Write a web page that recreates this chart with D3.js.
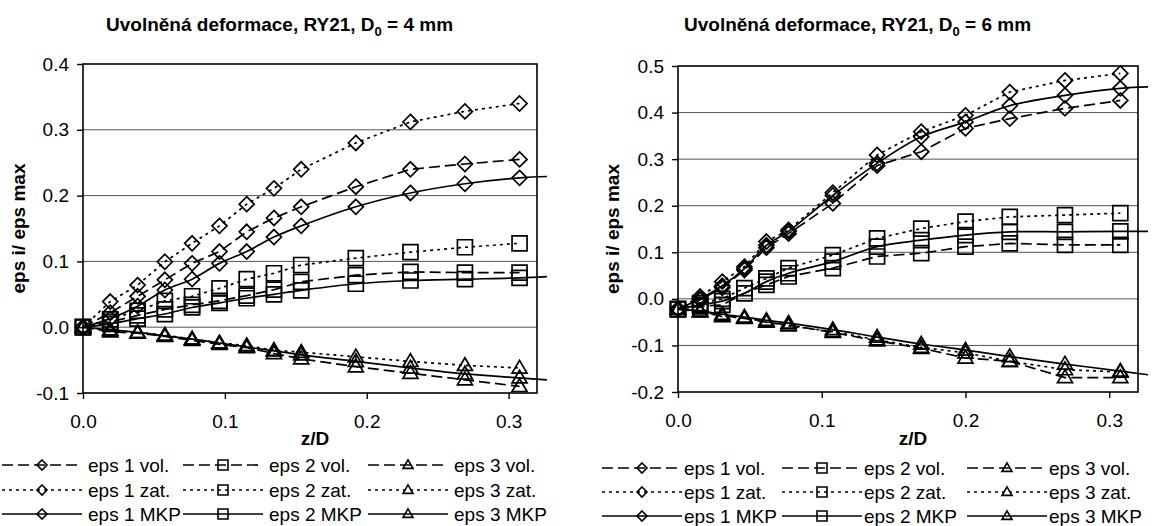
<!DOCTYPE html>
<html>
<head>
<meta charset="utf-8">
<script src="https://cdn.jsdelivr.net/npm/d3@7"></script>
<style>
body{margin:0;background:#fff}
svg{display:block}
text{font-family:"Liberation Sans",Arial,sans-serif;fill:#000}
</style>
</head>
<body>
<div id="chart"></div>
<script>
// z/D positions of the measured points
var zLeft = [0, 0.0192, 0.0385, 0.0577, 0.0769, 0.0962, 0.1154, 0.1346, 0.1538, 0.1923, 0.2308, 0.2692, 0.3077];
var zRight = [0, 0.0154, 0.0308, 0.0462, 0.0615, 0.0769, 0.1077, 0.1385, 0.1692, 0.2, 0.2308, 0.2692, 0.3077];
var zMkpEnd = 0.327; // MKP curves run a bit past the frame

// D0 = 4 mm
var eps1Vol4 = [0, 0.022, 0.047, 0.072, 0.097, 0.115, 0.145, 0.166, 0.183, 0.2135, 0.24, 0.248, 0.255];
var eps1Zat4 = [0, 0.039, 0.064, 0.0995, 0.1275, 0.154, 0.187, 0.211, 0.24, 0.28, 0.312, 0.328, 0.34];
var eps1Mkp4 = [0, 0.013, 0.032, 0.0565, 0.073, 0.097, 0.115, 0.137, 0.154, 0.183, 0.204, 0.218, 0.227, 0.229];
var eps2Vol4 = [0, 0.008, 0.018, 0.027, 0.034, 0.04, 0.048, 0.057, 0.069, 0.079, 0.084, 0.083, 0.083];
var eps2Zat4 = [0, 0.012, 0.025, 0.04, 0.047, 0.059, 0.073, 0.082, 0.0945, 0.105, 0.114, 0.1215, 0.1275];
var eps2Mkp4 = [0, 0.005, 0.013, 0.02, 0.03, 0.037, 0.044, 0.05, 0.056, 0.066, 0.071, 0.073, 0.075, 0.077];
var eps3Vol4 = [0, -0.007, -0.009, -0.014, -0.02, -0.026, -0.031, -0.04, -0.048, -0.06, -0.07, -0.08, -0.09];
var eps3Zat4 = [0, -0.005, -0.008, -0.012, -0.018, -0.024, -0.028, -0.035, -0.038, -0.045, -0.052, -0.058, -0.062];
var eps3Mkp4 = [0, -0.004, -0.008, -0.013, -0.018, -0.024, -0.03, -0.036, -0.042, -0.052, -0.062, -0.071, -0.077, -0.08];

// D0 = 6 mm
var eps1Vol6 = [-0.022, -0.002, 0.024, 0.062, 0.11, 0.14, 0.205, 0.286, 0.316, 0.366, 0.387, 0.409, 0.426];
var eps1Zat6 = [-0.022, 0.005, 0.037, 0.069, 0.123, 0.148, 0.228, 0.309, 0.359, 0.394, 0.444, 0.469, 0.484];
var eps1Mkp6 = [-0.022, 0.0, 0.028, 0.065, 0.115, 0.145, 0.222, 0.291, 0.348, 0.38, 0.415, 0.437, 0.452, 0.455];
var eps2Vol6 = [-0.022, -0.016, -0.013, 0.012, 0.03, 0.048, 0.066, 0.091, 0.098, 0.112, 0.119, 0.116, 0.116];
var eps2Zat6 = [-0.022, -0.009, 0.0, 0.023, 0.044, 0.066, 0.094, 0.13, 0.151, 0.166, 0.176, 0.18, 0.184];
var eps2Mkp6 = [-0.022, -0.013, -0.005, 0.012, 0.037, 0.055, 0.08, 0.112, 0.126, 0.137, 0.144, 0.144, 0.145, 0.145];
var eps3Vol6 = [-0.022, -0.028, -0.036, -0.042, -0.05, -0.056, -0.072, -0.09, -0.106, -0.127, -0.134, -0.169, -0.169];
var eps3Zat6 = [-0.022, -0.027, -0.038, -0.041, -0.049, -0.058, -0.07, -0.088, -0.104, -0.116, -0.134, -0.152, -0.157];
var eps3Mkp6 = [-0.022, -0.026, -0.033, -0.039, -0.046, -0.052, -0.066, -0.082, -0.097, -0.11, -0.124, -0.14, -0.155, -0.163];

var xTicks = [0, 0.1, 0.2, 0.3];
var yTicks4 = [-0.1, 0, 0.1, 0.2, 0.3, 0.4];
var yTicks6 = [-0.2, -0.1, 0, 0.1, 0.2, 0.3, 0.4, 0.5];
var kinds = ['vol.', 'zat.', 'MKP'];
var shapes = ['diamond', 'square', 'triangle'];

var dashes = {'vol.': '11,5', 'zat.': '3,4', 'MKP': null};

var svg = d3.select('#chart')
    .append('svg')
    .attr('width', 1158)
    .attr('height', 526);

function markerPath(shape, r){
    if(shape == 'diamond') return 'M0,'+(-r)+'L'+r+',0L0,'+r+'L'+(-r)+',0Z';
    if(shape == 'square') return 'M'+(-r)+','+(-r)+'h'+(2*r)+'v'+(2*r)+'h'+(-2*r)+'Z';
    var h = r*1.7;
    return 'M0,'+(-h*0.6)+'L'+r+','+(h*0.4)+'L'+(-r)+','+(h*0.4)+'Z';
}

function drawPanel(p){
    var x = d3.scaleLinear().domain([0, 0.32]).range([p.left, p.right]);
    var y = d3.scaleLinear().domain(p.yDomain).range([p.bottom, p.top]);
    var g = svg.append('g');

    // grid
    g.selectAll('line.grid')
        .data(p.yTicks.slice(1, -1))
        .enter()
        .append('line')
        .attr('x1', p.left).attr('x2', p.right)
        .attr('y1', function(d){return y(d)}).attr('y2', function(d){return y(d)})
        .attr('stroke', '#555').attr('stroke-width', 1);

    g.append('rect')
        .attr('x', p.left).attr('y', p.top)
        .attr('width', p.right - p.left).attr('height', p.bottom - p.top)
        .attr('fill', 'none').attr('stroke', '#000').attr('stroke-width', 1.6);

    var yAxis = g.append('g')
        .attr('transform', 'translate(' + p.left + ',0)')
        .call(d3.axisLeft(y).tickValues(p.yTicks).tickSize(6).tickPadding(8)
            .tickFormat(function(d){return d.toFixed(1)}));
    var xAxis = g.append('g')
        .attr('transform', 'translate(0,' + p.bottom + ')')
        .call(d3.axisBottom(x).tickValues(xTicks).tickSize(6).tickPadding(16)
            .tickFormat(function(d){return d.toFixed(1)}));
    [xAxis, yAxis].forEach(function(a){
        a.select('.domain').remove();
        a.selectAll('line').attr('stroke', '#000').attr('stroke-width', 1.4);
        a.selectAll('text').attr('font-size', 19).attr('font-family', '"Liberation Sans",Arial,sans-serif');
    });

    // titles
    var t = svg.append('text')
        .attr('x', p.titleX).attr('y', 31)
        .attr('font-size', 19).attr('font-weight', 'bold');
    t.append('tspan').text('Uvolněná deformace, RY21, D');
    t.append('tspan').attr('dy', 5).attr('font-size', 13).text('0');
    t.append('tspan').attr('dy', -5).text(' = ' + p.d0 + ' mm');

    svg.append('text')
        .attr('x', (p.left + p.right)/2 + 5).attr('y', 445)
        .attr('text-anchor', 'middle')
        .attr('font-size', 19).attr('font-weight', 'bold')
        .text('z/D');
    svg.append('text')
        .attr('transform', 'translate(' + p.yTitleX + ',' + ((p.top + p.bottom)/2) + ') rotate(-90)')
        .attr('text-anchor', 'middle')
        .attr('font-size', 19).attr('font-weight', 'bold')
        .text('eps i/ eps max');

    // series
    p.series.forEach(function(s){
        var zs = s.kind == 'MKP' ? p.z.concat([zMkpEnd]) : p.z;
        var pts = s.values.map(function(v, i){return [zs[i], v]});
        var line = d3.line()
            .x(function(d){return x(d[0])})
            .y(function(d){return y(d[1])})
            .curve(s.kind == 'MKP' ? d3.curveCatmullRom.alpha(0.5) : d3.curveLinear);
        g.append('path')
            .datum(pts)
            .attr('d', line)
            .attr('fill', 'none')
            .attr('stroke', '#000')
            .attr('stroke-width', 1.7)
            .attr('stroke-dasharray', dashes[s.kind]);
        g.selectAll(null)
            .data(pts.slice(0, p.z.length))
            .enter()
            .append('path')
            .attr('transform', function(d){return 'translate(' + x(d[0]) + ',' + y(d[1]) + ')'})
            .attr('d', markerPath(s.shape, 7.5))
            .attr('fill', 'none')
            .attr('stroke', '#000')
            .attr('stroke-width', 1.7);
    });

    // legend, rows = vol/zat/MKP, columns = eps 1..3
    kinds.forEach(function(k, r){
        shapes.forEach(function(sh, c){
            var lx = p.legendX[c], ly = p.legendY[r];
            var lg = svg.append('g');
            lg.append('line')
                .attr('x1', lx).attr('x2', lx + 80)
                .attr('y1', ly).attr('y2', ly)
                .attr('stroke', '#000').attr('stroke-width', 1.7)
                .attr('stroke-dasharray', dashes[k]);
            lg.append('path')
                .attr('transform', 'translate(' + (lx + 40) + ',' + ly + ')')
                .attr('d', markerPath(sh, 5))
                .attr('fill', 'none')
                .attr('stroke', '#000').attr('stroke-width', 1.6);
            lg.append('text')
                .attr('x', lx + p.legendGap).attr('y', ly + 7)
                .attr('font-size', 19)
                .text('eps ' + (c + 1) + ' ' + k);
        });
    });
}

drawPanel({
    left: 83, right: 537, top: 64, bottom: 393,
    yDomain: [-0.1, 0.4], yTicks: yTicks4,
    z: zLeft, d0: 4, titleX: 106, yTitleX: 25,
    legendX: [2, 183, 368], legendY: [465, 490, 514], legendGap: 86,
    series: [
        {kind: 'vol.', shape: 'diamond', values: eps1Vol4},
        {kind: 'zat.', shape: 'diamond', values: eps1Zat4},
        {kind: 'MKP', shape: 'diamond', values: eps1Mkp4},
        {kind: 'vol.', shape: 'square', values: eps2Vol4},
        {kind: 'zat.', shape: 'square', values: eps2Zat4},
        {kind: 'MKP', shape: 'square', values: eps2Mkp4},
        {kind: 'vol.', shape: 'triangle', values: eps3Vol4},
        {kind: 'zat.', shape: 'triangle', values: eps3Zat4},
        {kind: 'MKP', shape: 'triangle', values: eps3Mkp4}
    ]
});

drawPanel({
    left: 678, right: 1138, top: 66, bottom: 392,
    yDomain: [-0.2, 0.5], yTicks: yTicks6,
    z: zRight, d0: 6, titleX: 684, yTitleX: 619,
    legendX: [602, 782, 967], legendY: [468, 492, 516], legendGap: 82,
    series: [
        {kind: 'vol.', shape: 'diamond', values: eps1Vol6},
        {kind: 'zat.', shape: 'diamond', values: eps1Zat6},
        {kind: 'MKP', shape: 'diamond', values: eps1Mkp6},
        {kind: 'vol.', shape: 'square', values: eps2Vol6},
        {kind: 'zat.', shape: 'square', values: eps2Zat6},
        {kind: 'MKP', shape: 'square', values: eps2Mkp6},
        {kind: 'vol.', shape: 'triangle', values: eps3Vol6},
        {kind: 'zat.', shape: 'triangle', values: eps3Zat6},
        {kind: 'MKP', shape: 'triangle', values: eps3Mkp6}
    ]
});
</script>
</body>
</html>
